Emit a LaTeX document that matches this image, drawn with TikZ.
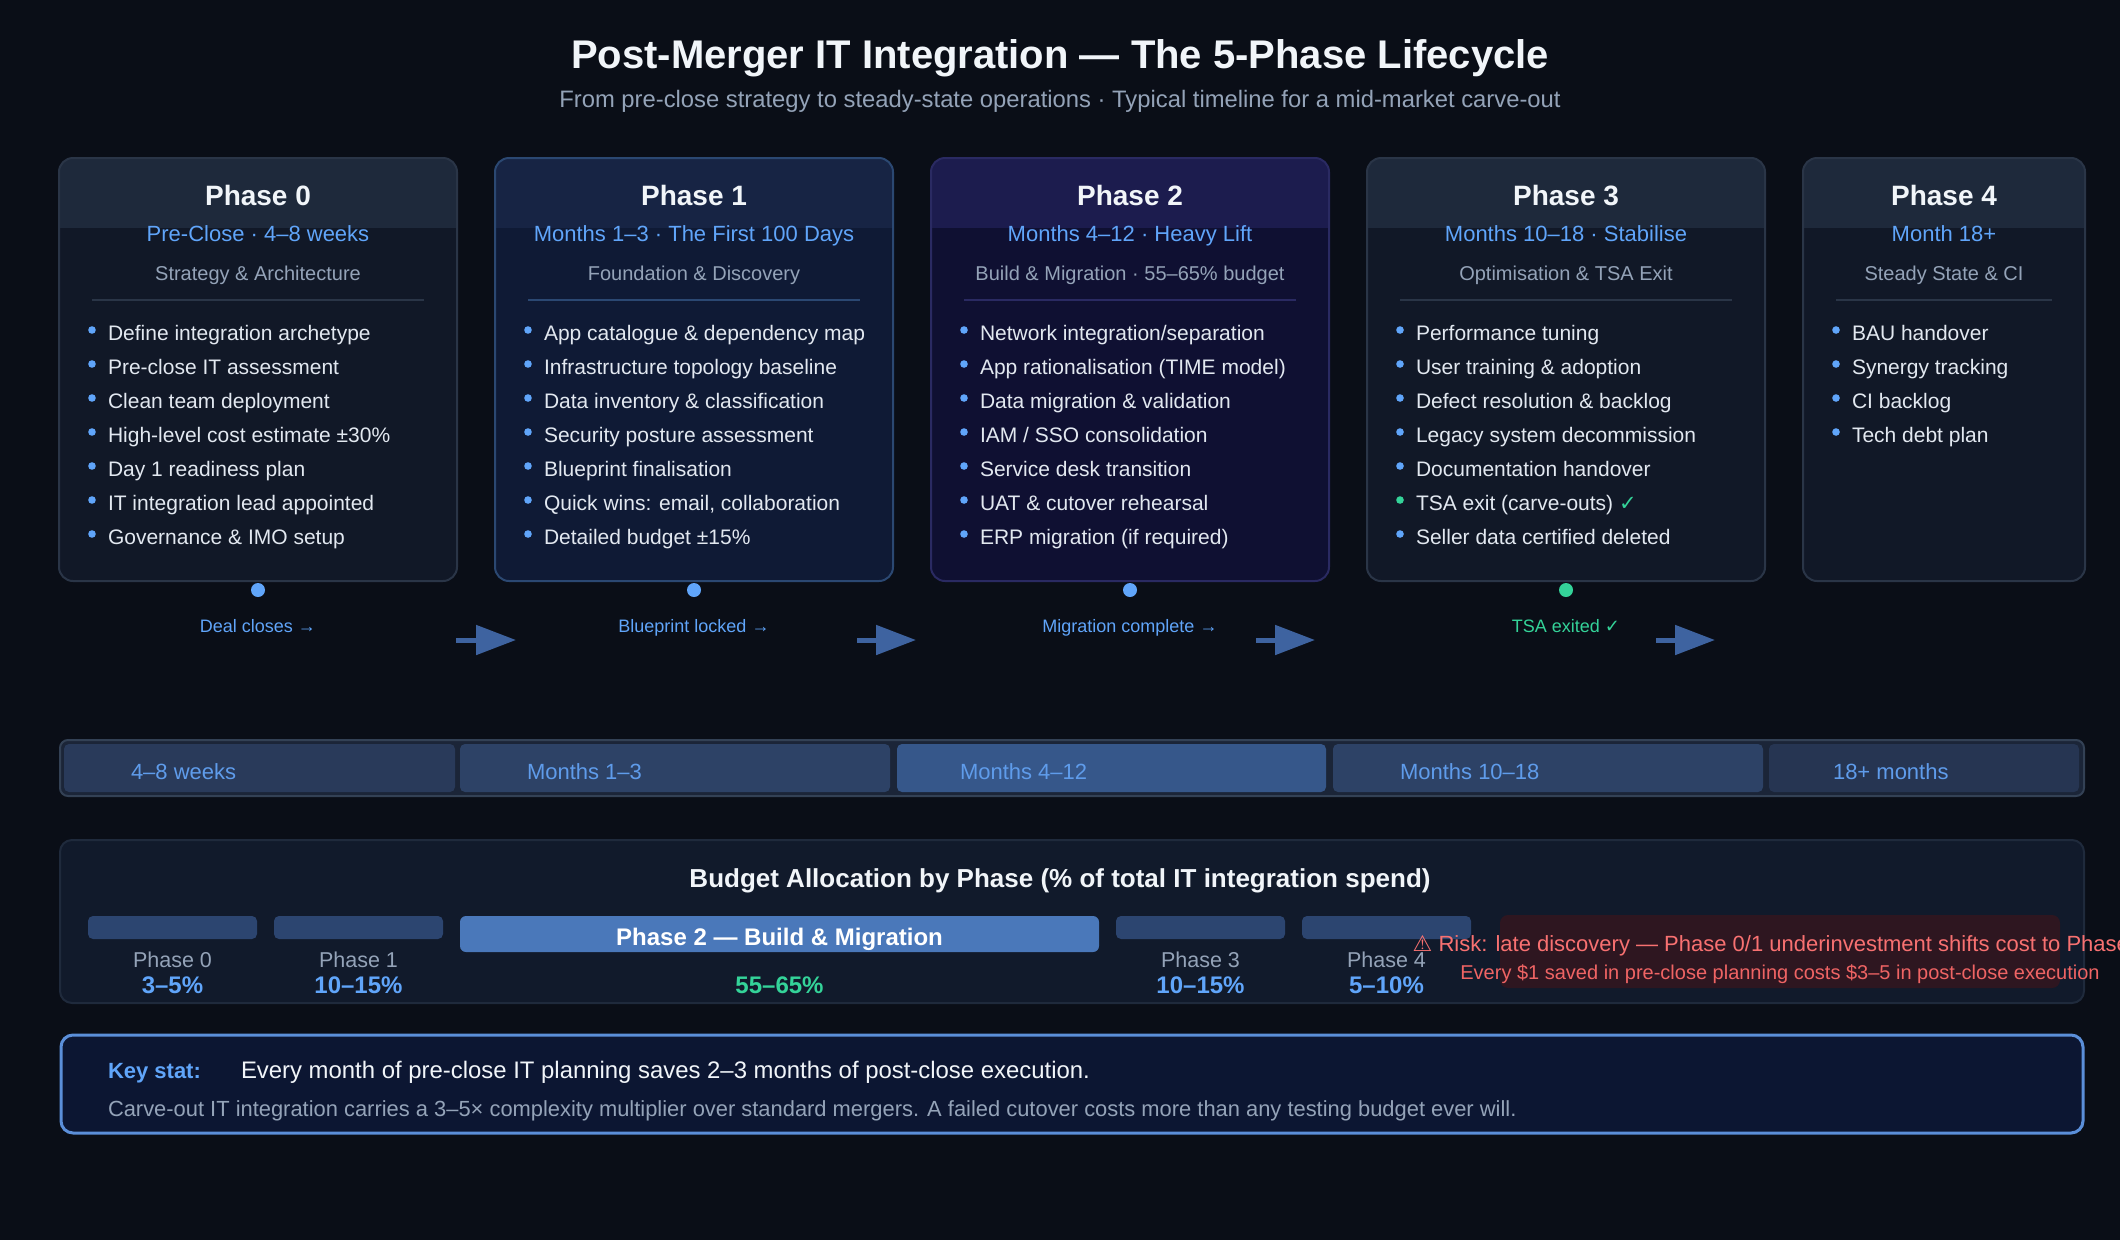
\documentclass[tikz,border=0pt]{standalone}
\usepackage{fontspec}
\setmainfont{Liberation Sans}
\newfontfamily\symfont{DejaVu Sans}
\usetikzlibrary{arrows.meta}
\definecolor{bg}{HTML}{0A0E17}
\definecolor{cardbody}{HTML}{111827}
\definecolor{cardhead}{HTML}{1E293B}
\definecolor{cardborder}{HTML}{2A3547}
\definecolor{cAbody}{HTML}{0F1A35}
\definecolor{cAhead}{HTML}{172444}
\definecolor{cAborder}{HTML}{2B4872}
\definecolor{cBbody}{HTML}{0F1032}
\definecolor{cBhead}{HTML}{1C1C4E}
\definecolor{cBborder}{HTML}{2A2A62}
\definecolor{whitetxt}{HTML}{F1F5F9}
\definecolor{accent}{HTML}{60A5FA}
\definecolor{graytxt}{HTML}{94A3B8}
\definecolor{bullettxt}{HTML}{E2E8F0}
\definecolor{greenc}{HTML}{34D399}
\definecolor{arrowc}{HTML}{3E63A0}
\definecolor{tlouter}{HTML}{1B2538}
\definecolor{tlborder}{HTML}{334155}
\definecolor{segA}{HTML}{293A5A}
\definecolor{segB}{HTML}{2D4266}
\definecolor{segC}{HTML}{36578A}
\definecolor{segD}{HTML}{263552}
\definecolor{tltext}{HTML}{5F9CEB}
\definecolor{panel}{HTML}{111A2B}
\definecolor{panelborder}{HTML}{1F2A3C}
\definecolor{barsmall}{HTML}{2C4570}
\definecolor{barbig}{HTML}{4A78BA}
\definecolor{riskbg}{HTML}{2E1620}
\definecolor{risktxt}{HTML}{F87171}
\definecolor{risktxtb}{HTML}{EF6464}
\definecolor{keybg}{HTML}{0C1632}
\definecolor{keyborder}{HTML}{5B8FD9}
\newcommand\fsz[1]{\fontsize{#1}{#1}\selectfont}
% bullet: name, card x0, row, text, bullet colour
\newcommand\bul[5]{%
  \fill[#5] (#2+33,{330+34*(#3-1)}) circle (3.8);
  \node[btxt] (#1) at (#2+49,{340.5+34*(#3-1)}) {#4};}
\newcommand\card[6]{% x0, x1, body, head, border, divider
  \begin{scope}
    \clip[rounded corners=14] (#1,158) rectangle (#2,581);
    \fill[#3] (#1,158) rectangle (#2,581);
    \fill[#4] (#1,158) rectangle (#2,228);
  \end{scope}
  \draw[#5, line width=2, rounded corners=14] (#1,158) rectangle (#2,581);
  \draw[#6, line width=1.5] (#1+33,300) -- (#2-33,300);}
\begin{document}
\begin{tikzpicture}[x=1pt,y=-1pt,
  every node/.style={inner sep=0pt, outer sep=0pt},
  ptitle/.style={anchor=base, text=whitetxt, font=\fsz{28}\bfseries},
  psub/.style={anchor=base, text=accent, font=\fsz{22}},
  pcat/.style={anchor=base, text=graytxt, font=\fsz{20}},
  btxt/.style={anchor=base west, text=bullettxt, font=\fsz{21}},
  msdot/.style={circle, fill=#1, minimum size=14pt},
  mslabel/.style={anchor=base, text=#1, font=\fsz{18}},
  flowarrow/.style={draw=arrowc, line width=5, -{Triangle[length=40pt,width=29pt]}},
  seglabel/.style={anchor=base west, text=tltext, font=\fsz{22}},
  blabel/.style={anchor=base, text=graytxt, font=\fsz{21.5}},
  bpct/.style={anchor=base, text=accent, font=\fsz{24}\bfseries},
]
\clip (0,0) rectangle (2120,1240);
\fill[bg] (0,0) rectangle (2120,1240);

% title
\node[anchor=base, text=whitetxt, font=\fsz{40}\bfseries] (title) at (1060,68)
  {Post-Merger IT Integration — The 5-Phase Lifecycle};
\node[anchor=base, text=graytxt, font=\fsz{23.8}] (subtitle) at (1060,107)
  {From pre-close strategy to steady-state operations · Typical timeline for a mid-market carve-out};

% cards
\card{59}{457}{cardbody}{cardhead}{cardborder}{cardborder}
\card{495}{893}{cAbody}{cAhead}{cAborder}{cAborder}
\card{931}{1329}{cBbody}{cBhead}{cBborder}{cBborder}
\card{1367}{1765}{cardbody}{cardhead}{cardborder}{cardborder}
\card{1803}{2085}{cardbody}{cardhead}{cardborder}{cardborder}

% phase 0
\node[ptitle] (p0t) at (258,205) {Phase 0};
\node[psub] (p0s) at (258,241) {Pre-Close · 4–8 weeks};
\node[pcat] (p0c) at (258,280.5) {Strategy \& Architecture};
\bul{b0a}{59}{1}{Define integration archetype}{accent}
\bul{b0b}{59}{2}{Pre-close IT assessment}{accent}
\bul{b0c}{59}{3}{Clean team deployment}{accent}
\bul{b0d}{59}{4}{High-level cost estimate ±30\%}{accent}
\bul{b0e}{59}{5}{Day 1 readiness plan}{accent}
\bul{b0f}{59}{6}{IT integration lead appointed}{accent}
\bul{b0g}{59}{7}{Governance \& IMO setup}{accent}

% phase 1
\node[ptitle] (p1t) at (694,205) {Phase 1};
\node[psub] (p1s) at (694,241) {Months 1–3 · The First 100 Days};
\node[pcat] (p1c) at (694,280.5) {Foundation \& Discovery};
\bul{b1a}{495}{1}{App catalogue \& dependency map}{accent}
\bul{b1b}{495}{2}{Infrastructure topology baseline}{accent}
\bul{b1c}{495}{3}{Data inventory \& classification}{accent}
\bul{b1d}{495}{4}{Security posture assessment}{accent}
\bul{b1e}{495}{5}{Blueprint finalisation}{accent}
\bul{b1f}{495}{6}{Quick wins: email, collaboration}{accent}
\bul{b1g}{495}{7}{Detailed budget ±15\%}{accent}

% phase 2
\node[ptitle] (p2t) at (1130,205) {Phase 2};
\node[psub] (p2s) at (1130,241) {Months 4–12 · Heavy Lift};
\node[pcat] (p2c) at (1130,280.5) {Build \& Migration · 55–65\% budget};
\bul{b2a}{931}{1}{Network integration/separation}{accent}
\bul{b2b}{931}{2}{App rationalisation (TIME model)}{accent}
\bul{b2c}{931}{3}{Data migration \& validation}{accent}
\bul{b2d}{931}{4}{IAM / SSO consolidation}{accent}
\bul{b2e}{931}{5}{Service desk transition}{accent}
\bul{b2f}{931}{6}{UAT \& cutover rehearsal}{accent}
\bul{b2g}{931}{7}{ERP migration (if required)}{accent}

% phase 3
\node[ptitle] (p3t) at (1566,205) {Phase 3};
\node[psub] (p3s) at (1566,241) {Months 10–18 · Stabilise};
\node[pcat] (p3c) at (1566,280.5) {Optimisation \& TSA Exit};
\bul{b3a}{1367}{1}{Performance tuning}{accent}
\bul{b3b}{1367}{2}{User training \& adoption}{accent}
\bul{b3c}{1367}{3}{Defect resolution \& backlog}{accent}
\bul{b3d}{1367}{4}{Legacy system decommission}{accent}
\bul{b3e}{1367}{5}{Documentation handover}{accent}
\bul{b3f}{1367}{6}{TSA exit (carve-outs) {\color{greenc}\symfont ✓}}{greenc}
\bul{b3g}{1367}{7}{Seller data certified deleted}{accent}

% phase 4
\node[ptitle] (p4t) at (1944,205) {Phase 4};
\node[psub] (p4s) at (1944,241) {Month 18+};
\node[pcat] (p4c) at (1944,280.5) {Steady State \& CI};
\bul{b4a}{1803}{1}{BAU handover}{accent}
\bul{b4b}{1803}{2}{Synergy tracking}{accent}
\bul{b4c}{1803}{3}{CI backlog}{accent}
\bul{b4d}{1803}{4}{Tech debt plan}{accent}

% milestones
\node[msdot=accent] (m0) at (258,590) {};
\node[msdot=accent] (m1) at (694,590) {};
\node[msdot=accent] (m2) at (1130,590) {};
\node[msdot=greenc] (m3) at (1566,590) {};
\node[mslabel=accent] (m0l) at (258,632) {Deal closes →};
\node[mslabel=accent] (m1l) at (694,632) {Blueprint locked →};
\node[mslabel=accent] (m2l) at (1130,632) {Migration complete →};
\node[mslabel=greenc] (m3l) at (1566,632) {TSA exited {\symfont ✓}};

% flow arrows
\coordinate (a0s) at (456,640); \coordinate (a0e) at (516,640);
\coordinate (a1s) at (857,640); \coordinate (a1e) at (916,640);
\coordinate (a2s) at (1256,640); \coordinate (a2e) at (1315,640);
\coordinate (a3s) at (1656,640); \coordinate (a3e) at (1715,640);
\draw[flowarrow] (a0s) -- (a0e);
\draw[flowarrow] (a1s) -- (a1e);
\draw[flowarrow] (a2s) -- (a2e);
\draw[flowarrow] (a3s) -- (a3e);

% timeline bar
\draw[fill=tlouter, draw=tlborder, line width=2, rounded corners=8] (60,740) rectangle (2084,796);
\fill[segA, rounded corners=5] (64,744) rectangle (455,792);
\fill[segB, rounded corners=5] (460,744) rectangle (890,792);
\fill[segC, rounded corners=5] (897,744) rectangle (1326,792);
\fill[segB, rounded corners=5] (1333,744) rectangle (1763,792);
\fill[segD, rounded corners=5] (1769,744) rectangle (2079,792);
\node[seglabel] (t0) at (131,779) {4–8 weeks};
\node[seglabel] (t1) at (527,779) {Months 1–3};
\node[seglabel] (t2) at (960,779) {Months 4–12};
\node[seglabel] (t3) at (1400,779) {Months 10–18};
\node[seglabel] (t4) at (1833,779) {18+ months};

% budget panel
\draw[fill=panel, draw=panelborder, line width=2, rounded corners=12] (60,840) rectangle (2084,1003);
\node[anchor=base, text=whitetxt, font=\fsz{26}\bfseries] (btitle) at (1060,887)
  {Budget Allocation by Phase (\% of total IT integration spend)};
\fill[barsmall, rounded corners=5] (88,916) rectangle (257,939);
\fill[barsmall, rounded corners=5] (274,916) rectangle (443,939);
\fill[barbig, rounded corners=6] (460,916) rectangle (1099,952);
\fill[barsmall, rounded corners=5] (1116,916) rectangle (1285,939);
\fill[barsmall, rounded corners=5] (1302,916) rectangle (1471,939);
\node[anchor=base, text=white, font=\fsz{24}\bfseries] (bar2) at (779.5,945) {Phase 2 — Build \& Migration};
\node[blabel] (l0) at (172.5,967) {Phase 0};
\node[bpct] (v0) at (172.5,993) {3–5\%};
\node[blabel] (l1) at (358.5,967) {Phase 1};
\node[bpct] (v1) at (358.5,993) {10–15\%};
\node[bpct, text=greenc] (v2) at (779.5,993) {55–65\%};
\node[blabel] (l3) at (1200.5,967) {Phase 3};
\node[bpct] (v3) at (1200.5,993) {10–15\%};
\node[blabel] (l4) at (1386.5,967) {Phase 4};
\node[bpct] (v4) at (1386.5,993) {5–10\%};

% risk
\fill[riskbg, rounded corners=8] (1500,915) rectangle (2060,988);
\node[anchor=base, text=risktxt, font=\fsz{22}] (risk1) at (1780,951.5)
  {{\symfont ⚠} Risk: late discovery — Phase 0/1 underinvestment shifts cost to Phase 2};
\node[anchor=base, text=risktxtb, font=\fsz{20}] (risk2) at (1780,979)
  {Every \$1 saved in pre-close planning costs \$3–5 in post-close execution};

% key stat
\draw[fill=keybg, draw=keyborder, line width=3, rounded corners=12] (61,1035) rectangle (2083,1133);
\node[anchor=base west, text=accent, font=\fsz{22}\bfseries] (kslabel) at (108,1078) {Key stat:};
\node[anchor=base west, text=whitetxt, font=\fsz{23.9}] (ksmain) at (241,1078)
  {Every month of pre-close IT planning saves 2–3 months of post-close execution.};
\node[anchor=base west, text=graytxt, font=\fsz{21.9}] (ksnote) at (108,1116)
  {Carve-out IT integration carries a 3–5× complexity multiplier over standard mergers. A failed cutover costs more than any testing budget ever will.};
\end{tikzpicture}
\end{document}
